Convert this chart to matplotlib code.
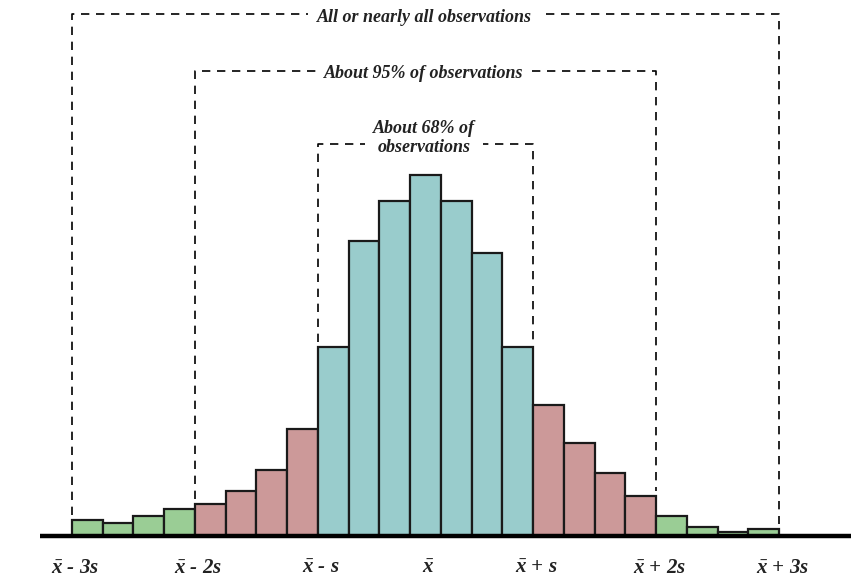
import numpy as np
import matplotlib
matplotlib.use("Agg")
import matplotlib.pyplot as plt

# ──────────────────────────────────────────────
# DATEN (Höhen)
# ──────────────────────────────────────────────
heights = [16, 13, 20, 27,            # links, grün
           32, 45, 66, 107,           # links, rot
           189, 295, 335, 361, 335, 283, 189,   # Mitte, türkis
           131, 93, 63, 40,           # rechts, rot
           20, 9, 4, 7]               # rechts, grün
groups = ["g"] * 4 + ["r"] * 4 + ["t"] * 7 + ["r"] * 4 + ["g"] * 4

tick_pos = [0, 4, 8, 11.5, 15, 19, 23]
tick_labels = [r"$\bar{x}$ - 3s", r"$\bar{x}$ - 2s", r"$\bar{x}$ - s", r"$\bar{x}$",
               r"$\bar{x}$ + s", r"$\bar{x}$ + 2s", r"$\bar{x}$ + 3s"]

# Bereiche: (links, rechts, Höhe oben, Text)
boxes = [(0, 23, 522, "All or nearly all observations"),
         (4, 19, 465, "About 95% of observations"),
         (8, 15, 392, "About 68% of\nobservations")]

COLORS = {"g": "#9acd95", "r": "#cc9999", "t": "#99cccc"}

plt.rcParams["mathtext.fontset"] = "custom"
plt.rcParams["mathtext.it"] = "Liberation Serif:bold:italic"
plt.rcParams["mathtext.rm"] = "Liberation Serif:bold:italic"
plt.rcParams["mathtext.bf"] = "Liberation Serif:bold:italic"

fig = plt.figure(figsize=(8.51, 5.78), dpi=100)
ax = fig.add_axes([0, 0, 1, 1])
px = 30.74
ax.set_xlim(-72 / px, (851 - 72) / px)
ax.set_ylim(-42, 536)
ax.axis("off")

x = np.arange(len(heights))
ax.bar(x, heights, width=1.0, align="edge",
       color=[COLORS[g] for g in groups], edgecolor="#1a1a1a", linewidth=1.6, zorder=3)

# Grundlinie
ax.plot([-32 / px, 30], [0, 0], color="black", lw=3.2, solid_capstyle="butt", zorder=4)

# gestrichelte Klammern
font = dict(family="Liberation Serif", weight="bold", style="italic", color="#222222")
for left, right, top, text in boxes:
    h_l = heights[left] if left < len(heights) else 0
    h_r = heights[right - 1]
    ax.plot([left, left, right, right], [h_l + 5, top, top, h_r + 5],
            color="black", lw=1.2, ls=(0, (5, 4)), zorder=2)
    cx = (left + right) / 2 - 0.05
    ty = top - 3 if "\n" not in text else top + 6
    ax.text(cx, ty, text, ha="center", va="center", fontsize=13, zorder=5,
            linespacing=1.15,
            bbox=dict(facecolor="white", edgecolor="none", pad=6), **font)

for p, lab in zip(tick_pos, tick_labels):
    ax.text(p + 0.1, -32, lab, ha="center", va="center", fontsize=15, **font)

fig.savefig("out.png", dpi=100)
